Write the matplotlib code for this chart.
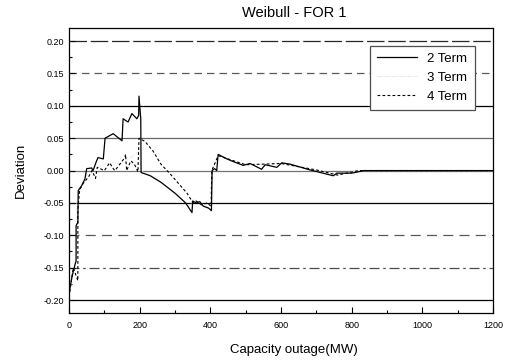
import numpy as np
import matplotlib.pyplot as plt

plt.rcParams['font.family'] = ['Liberation Sans', 'DejaVu Sans']

# 2 Term curve
x2 = [0, 8, 17, 20, 20, 25, 26, 36, 45, 50, 64, 68, 78, 82, 97, 102, 125, 150, 153, 167, 178,
      192, 197, 198, 203, 204, 230, 260, 300, 330, 348, 350, 360, 370, 380, 395, 403, 405, 412,
      418, 422, 447, 464, 493, 512, 545, 555, 588, 602, 625, 682, 748, 758, 800, 835, 1200]
y2 = [-0.19, -0.165, -0.145, -0.14, -0.085, -0.08, -0.031, -0.023, -0.013, 0.003, 0.004, 0.0,
      0.015, 0.02, 0.018, 0.05, 0.057, 0.046, 0.08, 0.075, 0.088, 0.08, 0.085, 0.115, 0.08,
      -0.003, -0.008, -0.018, -0.035, -0.05, -0.065, -0.047, -0.05, -0.048, -0.055, -0.058,
      -0.062, 0.0, 0.003, 0.0, 0.025, 0.018, 0.014, 0.008, 0.011, 0.002, 0.009, 0.005, 0.012,
      0.01, 0.001, -0.008, -0.004, -0.004, 0.0, 0.0]

# 3 Term curve (faint in the scan)
x3 = [0, 10, 22, 22, 30, 45, 60, 80, 100, 125, 150, 175, 198, 204, 240, 290, 340, 352, 380,
      403, 405, 422, 500, 600, 700, 760, 820, 1200]
y3 = [-0.2, -0.16, -0.13, -0.05, -0.03, -0.012, 0.0, 0.005, 0.01, 0.012, 0.01, 0.02, 0.03, 0.0,
      -0.012, -0.03, -0.055, -0.045, -0.052, -0.06, 0.0, 0.022, 0.009, 0.01, 0.0, -0.006, 0.0, 0.0]

# 4 Term curve
x4 = [0, 12, 25, 25, 30, 40, 55, 65, 75, 80, 100, 115, 125, 130, 158, 160, 163, 175, 185, 195,
      198, 215, 238, 260, 286, 310, 334, 351, 360, 375, 390, 402, 404, 422, 500, 600, 700, 760,
      820, 1200]
y4 = [-0.195, -0.15, -0.17, -0.06, -0.03, -0.02, -0.01, 0.0, -0.012, 0.005, 0.0, 0.012, 0.003,
      0.0, 0.02, 0.025, 0.0, 0.015, 0.01, -0.002, 0.05, 0.045, 0.03, 0.01, -0.005, -0.02,
      -0.035, -0.05, -0.047, -0.053, -0.05, -0.055, 0.0, 0.023, 0.009, 0.011, 0.001, -0.007,
      0.0, 0.0]

grid_y = [0.20, 0.15, 0.10, 0.05, 0.00, -0.05, -0.10, -0.15, -0.20]
grid_style = [(0, (14, 3)), (0, (6, 4)), '-', '-', '-', '-', (0, (8, 5)), (0, (8, 3, 2, 3)), '-']
grid_col = ['0.15', '0.35', 'k', '0.4', '0.45', 'k', '0.35', '0.3', 'k']

fig = plt.figure(figsize=(5.19, 3.61), dpi=100)
ax = fig.add_axes([0.133, 0.133, 0.817, 0.789])

for gy, ls, c in zip(grid_y, grid_style, grid_col):
    ax.axhline(gy, color=c, ls=ls, lw=0.9, zorder=1)

ax.plot(x2, y2, color='k', lw=0.9, label='2 Term', zorder=3)
ax.plot(x3, y3, color='0.88', lw=0.5, ls='-.', label='3 Term', zorder=2)
ax.plot(x4, y4, color='k', lw=0.8, ls=(0, (2.5, 2)), label='4 Term', zorder=3)

ax.set_xlim(0, 1200)
ax.set_ylim(-0.22, 0.22)
ax.set_xticks([0, 200, 400, 600, 800, 1000, 1200])
ax.set_xticks(np.arange(100, 1200, 200), minor=True)
ax.set_yticks(grid_y)
ax.set_yticks(np.arange(-0.175, 0.2, 0.05), minor=True)
ax.set_yticklabels(['%.2f' % v for v in grid_y])
ax.tick_params(direction='in', labelsize=6.5, length=4, width=0.8)
ax.tick_params(axis='x', pad=6)
ax.tick_params(which='minor', direction='in', length=2.5, width=0.8)
for s in ax.spines.values():
    s.set_linewidth(0.9)

ax.set_title('Weibull - FOR 1', fontsize=10.5, pad=8, x=0.53)
ax.set_xlabel('Capacity outage(MW)', fontsize=9.5, labelpad=10, x=0.53)
ax.set_ylabel('Deviation', fontsize=9.5, labelpad=12)

leg = ax.legend(loc='upper right', bbox_to_anchor=(0.972, 0.962), fontsize=9.5,
                fancybox=False, edgecolor='0.3', framealpha=1, handlelength=3.0,
                borderpad=0.55, labelspacing=0.5)
leg.get_frame().set_linewidth(0.9)

fig.savefig('out.png', dpi=100)
